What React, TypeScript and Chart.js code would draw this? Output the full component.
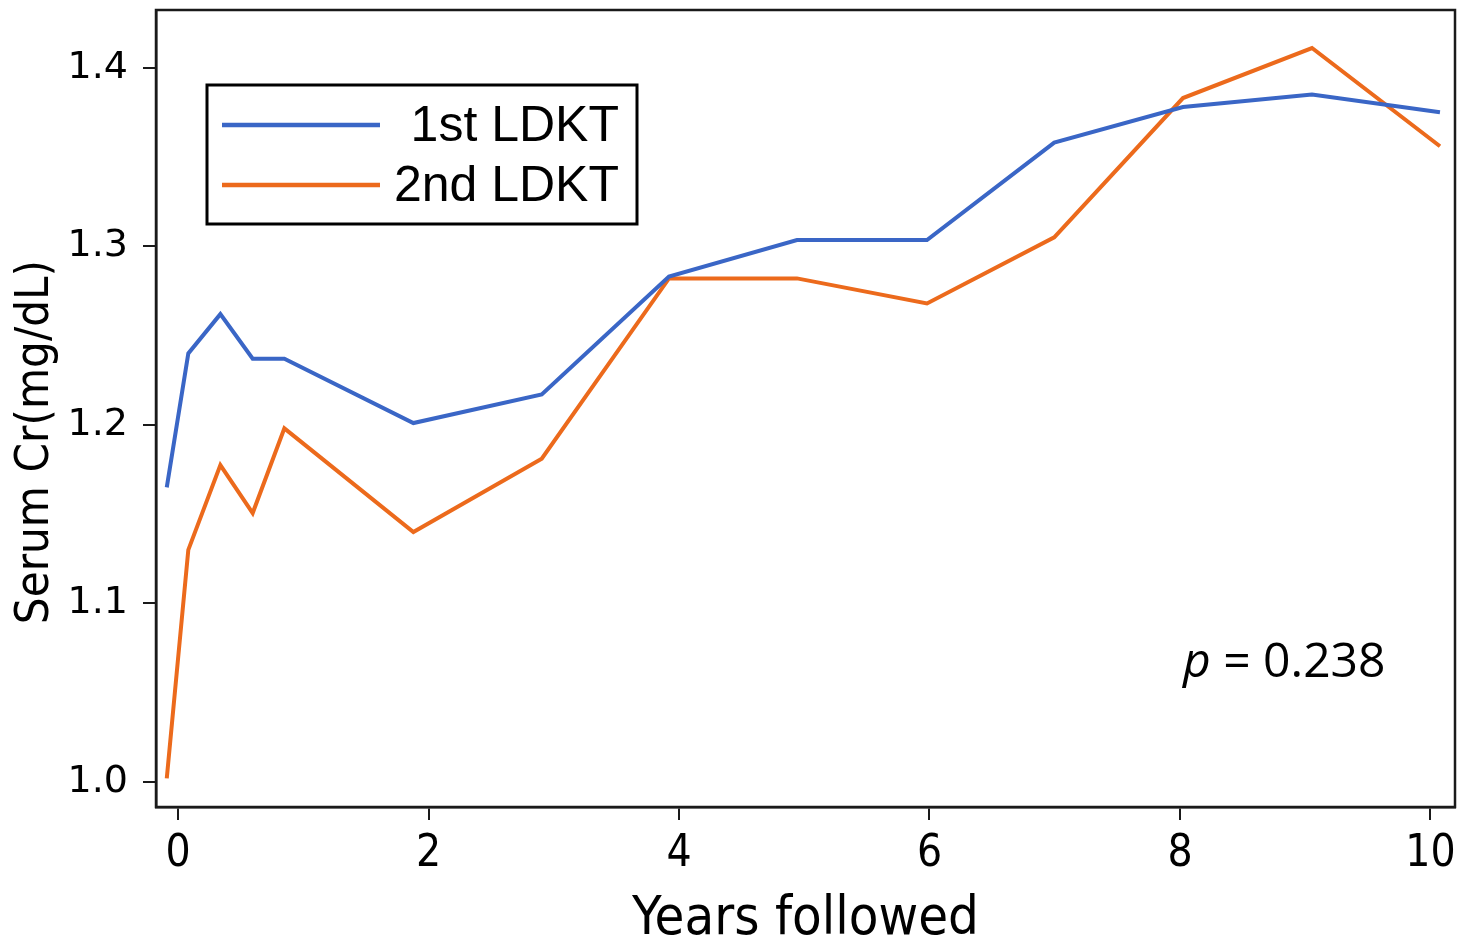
import React, { useEffect, useRef } from "react";
import { Chart, registerables } from "chart.js";

Chart.register(...registerables);

const yearsFollowed = [-0.09, 0.082, 0.338, 0.596, 0.849, 1.879, 2.904, 3.92, 4.942, 5.98, 6.996, 8.024, 9.054, 10.076];
const firstLDKT = [1.165, 1.24, 1.262, 1.237, 1.237, 1.201, 1.217, 1.283, 1.3035, 1.3035, 1.358, 1.378, 1.385, 1.375];
const secondLDKT = [1.002, 1.13, 1.1775, 1.1506, 1.198, 1.14, 1.181, 1.282, 1.282, 1.268, 1.305, 1.383, 1.411, 1.356];
const seriesLabels = ["1st LDKT", "2nd LDKT"];
const seriesColors = ["#3a66c6", "#ec6a1c"];
const xTickValues = [0, 2, 4, 6, 8, 10];
const yTickValues = [1.0, 1.1, 1.2, 1.3, 1.4];
const pValueLabel = "0.238";

const boxPlugin = {
  id: "boxAndLegend",
  afterDraw(chart: any) {
    const { ctx, chartArea } = chart;
    const { left, top, right, bottom } = chartArea;
    ctx.save();
    // frame
    ctx.strokeStyle = "#1a1a1a";
    ctx.lineWidth = 2.5;
    ctx.strokeRect(left, top, right - left, bottom - top);

    // legend box
    const bx = left + 51;
    const by = top + 75;
    const bw = 430;
    const bh = 139;
    ctx.lineWidth = 3;
    ctx.strokeStyle = "#000";
    ctx.fillStyle = "#fff";
    ctx.fillRect(bx, by, bw, bh);
    ctx.strokeRect(bx, by, bw, bh);
    chart.data.datasets.forEach((ds: any, i: number) => {
      const ly = by + 40 + i * 60;
      ctx.strokeStyle = ds.borderColor;
      ctx.lineWidth = 4.5;
      ctx.beginPath();
      ctx.moveTo(bx + 15, ly);
      ctx.lineTo(bx + 173, ly);
      ctx.stroke();
      ctx.fillStyle = "#000";
      ctx.font = '50px "Liberation Sans", Arial, sans-serif';
      ctx.textAlign = "right";
      ctx.textBaseline = "alphabetic";
      ctx.fillText(ds.label, bx + 412, ly + 16);
    });

    // p value
    ctx.fillStyle = "#000";
    ctx.textAlign = "left";
    ctx.textBaseline = "alphabetic";
    const px = right - 272;
    const py = bottom - 130;
    ctx.font = 'italic 48px "Open Sans", sans-serif';
    ctx.fillText("p", px, py);
    const pw = ctx.measureText("p").width;
    ctx.font = '48px "Open Sans", sans-serif';
    ctx.fillText(" = " + pValueLabel, px + pw, py);
    ctx.restore();
  },
};

export default function App() {
  const ref = useRef<HTMLCanvasElement | null>(null);
  useEffect(() => {
    document.body.style.margin = "0";
    const canvas = ref.current;
    if (!canvas) return;
    const chart = new Chart(canvas, {
      type: "line",
      data: {
        datasets: [firstLDKT, secondLDKT].map((vals, i) => ({
          label: seriesLabels[i],
          data: vals.map((v, j) => ({ x: yearsFollowed[j], y: v })),
          borderColor: seriesColors[i],
          backgroundColor: seriesColors[i],
          borderWidth: 4,
          pointRadius: 0,
          tension: 0,
          fill: false,
        })),
      },
      options: {
        animation: false,
        responsive: false,
        devicePixelRatio: 1,
        layout: { padding: { top: 10, right: 13, left: 0, bottom: 0 } },
        plugins: { legend: { display: false }, tooltip: { enabled: false } },
        scales: {
          x: {
            type: "linear",
            min: -0.176,
            max: 10.196,
            afterBuildTicks: (scale: any) => {
              scale.ticks = xTickValues.map((v) => ({ value: v }));
            },
            afterFit: (scale: any) => {
              scale.height = 140;
              scale.paddingLeft = 0;
              scale.paddingRight = 0;
            },
            grid: { drawOnChartArea: false, drawTicks: true, tickLength: 13, color: "#1a1a1a", lineWidth: 2 },
            border: { display: true, color: "#1a1a1a", width: 2.5 },
            ticks: {
              padding: 8,
              color: "#000",
              font: { family: '"DejaVu Sans Condensed", "DejaVu Sans", sans-serif', size: 44 },
              callback: (v: any) => String(v),
            },
            title: {
              display: true,
              text: "Years followed",
              color: "#000",
              padding: { top: 0, bottom: 0 },
              font: { family: '"DejaVu Sans Condensed", "DejaVu Sans", sans-serif', size: 54, lineHeight: 1.0 },
            },
          },
          y: {
            type: "linear",
            min: 0.986,
            max: 1.4323,
            afterBuildTicks: (scale: any) => {
              scale.ticks = yTickValues.map((v) => ({ value: v }));
            },
            afterFit: (scale: any) => {
              scale.width = 156;
              scale.paddingTop = 0;
              scale.paddingBottom = 0;
            },
            grid: { drawOnChartArea: false, drawTicks: true, tickLength: 13, color: "#1a1a1a", lineWidth: 2 },
            border: { display: true, color: "#1a1a1a", width: 2.5 },
            ticks: {
              padding: 15,
              color: "#000",
              font: { family: '"DejaVu Sans", sans-serif', size: 38 },
              callback: (v: any) => Number(v).toFixed(1),
            },
            title: {
              display: true,
              text: "Serum Cr(mg/dL)     ",
              color: "#000",
              padding: { top: 8, bottom: 0 },
              font: { family: '"DejaVu Sans Condensed", "DejaVu Sans", sans-serif', size: 47 },
            },
          },
        },
      },
      plugins: [boxPlugin],
    });
    return () => chart.destroy();
  }, []);
  return (
    <div style={{ width: 1468, height: 947, background: "#fff" }}>
      <canvas ref={ref} width={1468} height={947} style={{ display: "block" }} />
    </div>
  );
}
